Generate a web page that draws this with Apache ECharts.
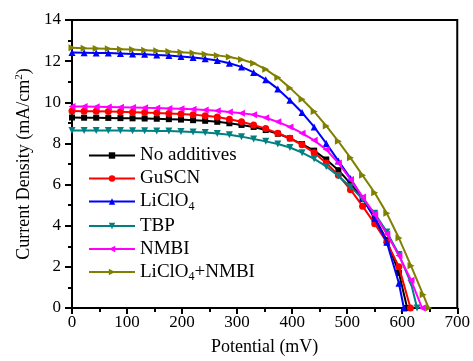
<!DOCTYPE html>
<html>
<head>
<meta charset="utf-8">
<script src="https://cdn.jsdelivr.net/npm/echarts@6/dist/echarts.min.js"></script>
<style>
  html, body { margin: 0; padding: 0; background: #fff; }
  #chart { width: 473px; height: 361px; }
</style>
</head>
<body>
<div id="chart"></div>
<script>
// sampled potentials (mV), shared by all curves
const potentials = [0, 22, 44, 66, 88, 110, 132, 154, 176, 198, 220, 242, 264, 286, 308,
  330, 352, 374, 396, 418, 440, 462, 484, 506, 528, 550, 572, 594, 616, 638];

// current density (mA/cm2)
const noAdditives = [9.26, 9.25, 9.25, 9.24, 9.23, 9.22, 9.21, 9.2, 9.18, 9.16, 9.13, 9.1, 9.05, 8.98, 8.9,
  8.8, 8.65, 8.47, 8.25, 7.97, 7.65, 7.22, 6.7, 6.05, 5.3, 4.4, 3.3, 1.7];
const guscn = [9.58, 9.57, 9.56, 9.55, 9.54, 9.52, 9.5, 9.48, 9.46, 9.43, 9.4, 9.35, 9.28, 9.18, 9.05,
  8.9, 8.72, 8.5, 8.25, 7.93, 7.55, 7.05, 6.45, 5.75, 4.95, 4.1, 3.2, 2.0];
const liclo4 = [12.42, 12.41, 12.4, 12.39, 12.37, 12.35, 12.33, 12.3, 12.27, 12.23, 12.18, 12.12, 12.03, 11.9, 11.72,
  11.45, 11.1, 10.65, 10.1, 9.5, 8.8, 8.0, 7.15, 6.3, 5.35, 4.35, 3.2, 1.2];
const tbp = [8.63, 8.63, 8.63, 8.63, 8.63, 8.62, 8.62, 8.61, 8.6, 8.58, 8.56, 8.53, 8.48, 8.42, 8.33,
  8.22, 8.1, 7.97, 7.8, 7.55, 7.25, 6.88, 6.42, 5.9, 5.3, 4.6, 3.7, 2.6, 1.2];
const nmbi = [9.8, 9.79, 9.78, 9.77, 9.76, 9.75, 9.73, 9.72, 9.7, 9.68, 9.66, 9.63, 9.59, 9.53, 9.47,
  9.4, 9.25, 9.05, 8.8, 8.5, 8.15, 7.7, 7.05, 6.25, 5.4, 4.55, 3.6, 2.55, 1.35];
const liclo4Nmbi = [12.65, 12.63, 12.62, 12.6, 12.58, 12.56, 12.53, 12.5, 12.47, 12.43, 12.39, 12.34, 12.28, 12.2, 12.08,
  11.9, 11.6, 11.2, 10.7, 10.15, 9.55, 8.85, 8.1, 7.3, 6.45, 5.6, 4.6, 3.4, 2.05, 0.65];

// open-circuit end of each curve (mV)
const vocs = [609, 615, 603, 627, 636, 648];

const seriesNames = ['No additives', 'GuSCN', 'LiClO4', 'TBP', 'NMBI', 'LiClO4+NMBI'];
const seriesValues = [noAdditives, guscn, liclo4, tbp, nmbi, liclo4Nmbi];
const colors = ['#000000', '#ff0000', '#0000ff', '#008080', '#ff00ff', '#808000'];
const symbols = ['rect', 'circle', 'triangle', 'triangle', 'triangle', 'triangle'];
const rotations = [0, 0, 0, 180, 90, -90];

const xTicks = { min: 0, max: 700, interval: 100 };
const yTicks = { min: 0, max: 14, interval: 2 };

const font = 'Liberation Serif';

const chart = echarts.init(document.getElementById('chart'));

const series = seriesNames.map((name, k) => ({
  name: name,
  type: 'line',
  data: seriesValues[k].map((j, i) => [potentials[i], j]).concat([[vocs[k], 0]]),
  symbol: symbols[k],
  symbolSize: k === 0 ? 6 : 7,
  symbolRotate: rotations[k],
  lineStyle: { width: 2, color: colors[k] },
  itemStyle: { color: colors[k] },
  z: 2 + k,
  animation: false
}));

const option = {
  animation: false,
  grid: {
    left: 72, right: 15, top: 20, bottom: 53,
    show: true, borderColor: '#000', borderWidth: 2
  },
  legend: {
    orient: 'vertical',
    left: 83,
    top: 141,
    itemWidth: 46,
    itemHeight: 8,
    itemGap: 4,
    textStyle: {
      fontFamily: font, fontSize: 19, color: '#000',
      rich: {
        sub: { fontFamily: font, fontSize: 12, color: '#000', padding: [10, 0, 0, 0] }
      }
    },
    formatter: name => name.replace(/ClO4/, 'ClO{sub|4}'),
    data: seriesNames
  },
  xAxis: {
    type: 'value',
    min: xTicks.min, max: xTicks.max, interval: xTicks.interval,
    name: 'Potential (mV)',
    nameLocation: 'middle',
    nameGap: 30,
    nameTextStyle: { fontFamily: font, fontSize: 18, color: '#000' },
    axisLine: { lineStyle: { color: '#000', width: 2 } },
    axisTick: { length: 6, lineStyle: { width: 2 } },
    minorTick: { show: true, splitNumber: 2, length: 4, lineStyle: { color: '#000', width: 2 } },
    splitLine: { show: false },
    axisLabel: { fontFamily: font, fontSize: 17, color: '#000', margin: 6 }
  },
  yAxis: {
    type: 'value',
    min: yTicks.min, max: yTicks.max, interval: yTicks.interval,
    name: 'Current Density (mA/cm{sup|2})',
    nameLocation: 'middle',
    nameGap: 33,
    nameTextStyle: {
      fontFamily: font, fontSize: 18, color: '#000',
      rich: {
        sup: { fontFamily: font, fontSize: 11, color: '#000', padding: [0, 0, 9, 0] }
      }
    },
    axisLine: { lineStyle: { color: '#000', width: 2 } },
    axisTick: { length: 7, lineStyle: { width: 2 } },
    minorTick: { show: true, splitNumber: 2, length: 4, lineStyle: { color: '#000', width: 2 } },
    splitLine: { show: false },
    axisLabel: { fontFamily: font, fontSize: 17, color: '#000', margin: 11 }
  },
  series: series
};

chart.setOption(option);
</script>
</body>
</html>
